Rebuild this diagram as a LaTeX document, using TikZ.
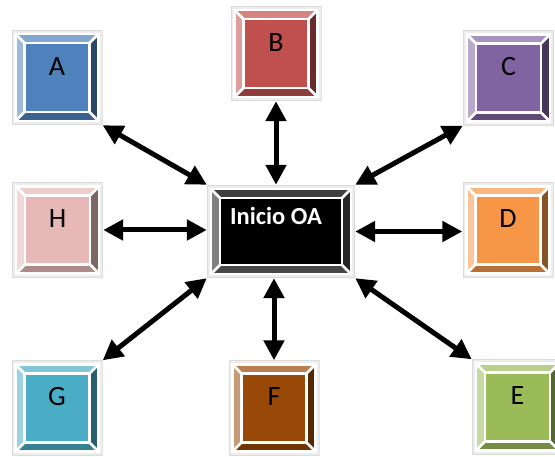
\documentclass[tikz,border=0pt]{standalone}
\usepackage{fontspec}
\setmainfont{Carlito}
\usetikzlibrary{calc,arrows.meta}

\definecolor{cA}{HTML}{4F81BD}
\definecolor{cB}{HTML}{C0504D}
\definecolor{cC}{HTML}{8064A2}
\definecolor{cD}{HTML}{F79646}
\definecolor{cE}{HTML}{9BBB59}
\definecolor{cF}{HTML}{984807}
\definecolor{cG}{HTML}{4BACC6}
\definecolor{cH}{HTML}{E6B9B8}

\tikzset{
  % bevel colours derived from one base colour
  tint/.style={/utils/exec={%
    \colorlet{bvface}{#1}\colorlet{bvtop}{#1!70!white}%
    \colorlet{bvleft}{#1!55!white}\colorlet{bvright}{#1!55!black}%
    \colorlet{bvbottom}{#1!75!black}}},
  darktint/.style={/utils/exec={%
    \colorlet{bvface}{black}\colorlet{bvtop}{black!75}%
    \colorlet{bvleft}{black!50}\colorlet{bvright}{black!85}%
    \colorlet{bvbottom}{black!72}}},
  % bevelled button face
  bevel/.style={inner sep=0pt, path picture={
    \path (path picture bounding box.south west) coordinate (o1)
          (path picture bounding box.north east) coordinate (o2);
    \fill[black!7] (o1) rectangle (o2);
    \path ($(o1)+(4pt,4pt)$) coordinate (b1) ($(o2)-(4pt,4pt)$) coordinate (b2)
          ($(o1)+(13pt,13pt)$) coordinate (f1) ($(o2)-(13pt,13pt)$) coordinate (f2);
    \fill[bvtop] (b1|-b2) -- (b2) -- (f2) -- (f1|-f2) -- cycle;
    \fill[bvleft] (b1) -- (b1|-b2) -- (f1|-f2) -- (f1) -- cycle;
    \fill[bvright] (b2) -- (b2|-b1) -- (f2|-f1) -- (f2) -- cycle;
    \fill[bvbottom] (b1) -- (b2|-b1) -- (f2|-f1) -- (f1) -- cycle;
    \fill[bvface] (f1) rectangle (f2);
    \begin{scope}[white, line width=2.6pt]
      \draw (f1) rectangle (f2);
      \draw (b1) -- (f1) (b1|-b2) -- (f1|-f2) (b2) -- (f2) (b2|-b1) -- (f2|-f1);
      \draw (b1) rectangle (b2);
    \end{scope}
    \draw[black!14, line width=0.8pt] ($(o1)+(0.4pt,0.4pt)$) rectangle ($(o2)-(0.4pt,0.4pt)$);
  }},
  letterbox/.style={bevel, tint=#1, minimum width=91pt, minimum height=95pt,
    font=\fontsize{28}{30}\selectfont, text=black, text height=18pt, text depth=22pt},
  mainbox/.style={bevel, darktint, minimum width=148pt, minimum height=93pt,
    font=\bfseries\fontsize{24.5}{28}\selectfont, text=white, text height=16pt, text depth=29pt},
  link/.style={line width=5pt, black,
    {Triangle[length=20pt,width=20pt]}-{Triangle[length=20pt,width=20pt]}}
}

\begin{document}
\begin{tikzpicture}[x=1pt, y=-1pt]
  \useasboundingbox (0,0) rectangle (555,457);

  % central box
  \node[mainbox] (O) at (281,231.5) {\hspace*{-10pt}Inicio OA};

  % surrounding boxes
  \node[letterbox=cA] (A) at (57,77.5)   {A};
  \node[letterbox=cB] (B) at (276,53.5)  {B};
  \node[letterbox=cC] (C) at (508.5,78)  {C};
  \node[letterbox=cD] (D) at (508,230)   {D};
  \node[letterbox=cE] (E) at (517.5,407) {E};
  \node[letterbox=cF] (F) at (274,408)   {F};
  \node[letterbox=cG] (G) at (57,408)    {G};
  \node[letterbox=cH] (H) at (57.5,230)  {H};

  % double-headed connectors
  \draw[link] (A.south east) -- (O.north west);
  \draw[link] (B.south) -- (B.south |- O.north);
  \draw[link] (C.south west) -- (O.north east);
  \draw[link] (O.east) -- (O.east -| D.west);
  \draw[link] (E.north west) -- (O.south east);
  \draw[link] (F.north) -- (F.north |- O.south);
  \draw[link] (G.north east) -- (O.south west);
  \draw[link] (H.east) -- (H.east -| O.west);
\end{tikzpicture}
\end{document}
